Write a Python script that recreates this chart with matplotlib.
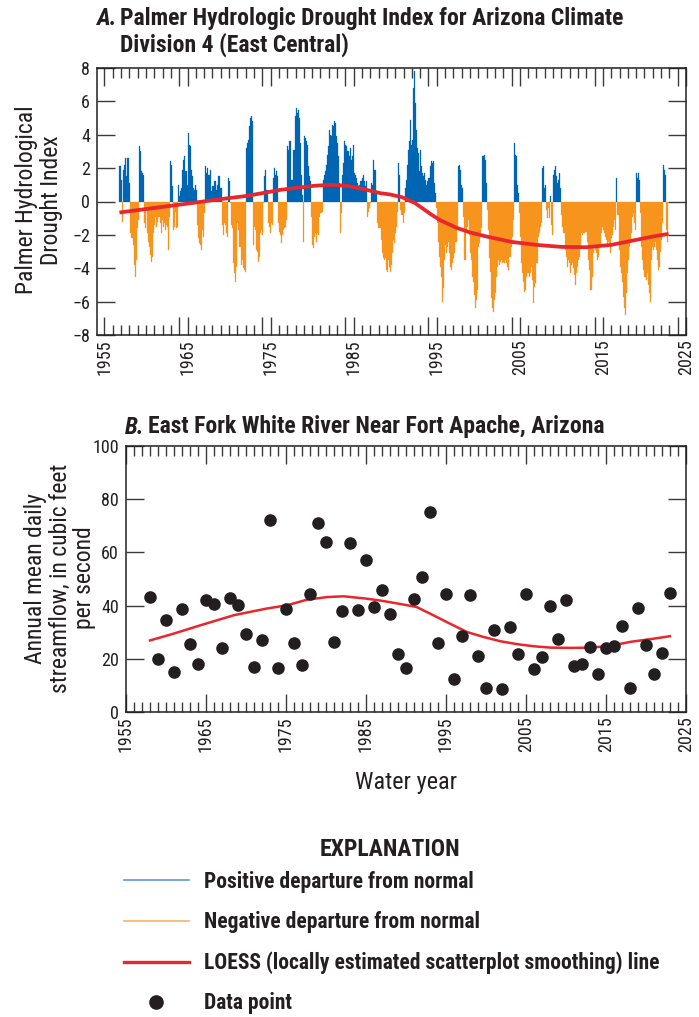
import numpy as np
import matplotlib
matplotlib.use("Agg")
import matplotlib.pyplot as plt
import matplotlib.font_manager as fm
from matplotlib.lines import Line2D
from matplotlib.ticker import FixedLocator, MultipleLocator, FuncFormatter

# condensed sans, as in the USGS figure
_names = {f.name for f in fm.fontManager.ttflist}
FONT = "Roboto Condensed" if "Roboto Condensed" in _names else "DejaVu Sans"
plt.rcParams["font.family"] = [FONT, "DejaVu Sans"]

# ---- panel A: Palmer Hydrological Drought Index, 8 readings per year ----
PHDI_START = 1956.75
PHDI_STEP = 0.125

phdi_1950s = [
    2.1, 2.1,
    1.3, -1.2, 1.9, 2.2, 2.6, 1.5, 2.6, 2.6,
    1.1, -1.9, -2.2, -2.6, -3.8, -4.5, -3.5, -1.6,
    -1.1, 3.3, 3.0, 1.8, 1.7, 1.6, -1.3, -1.6,
]
phdi_1960s = [
    -0.5, -1.9, -2.4, -2.7, -3.2, -3.6, -3.3, -1.9,
    -1.4, -0.9, -1.5, -1.2, -0.9, -1.3, -1.9, -1.1,
    -1.5, -1.3, -1.7, -1.4, -1.5, -2.9, -0.9, 2.4,
    2.2, 0.9, -1.7, -1.5, -0.6, -1.6, -1.5, 1.0,
    0.3, 0.6, 0.8, 1.9, 2.5, 2.7, 1.8, 1.0,
    4.1, 3.4, 3.3, 1.9, 1.5, 0.8, 0.7, 1.0,
    0.7, -1.4, -2.2, -2.5, -2.6, -2.9, -1.7, -2.1,
    -0.7, 2.1, 1.7, 2.0, 1.6, 1.6, 1.9, 0.6,
    0.9, 1.2, 1.2, 0.7, 1.0, 1.5, 1.5, 0.8,
    0.8, -1.4, -2.0, -1.3, -1.4, -1.9, -2.1, 1.4,
]
phdi_1970s = [
    1.2, -0.1, -1.4, -1.6, -3.7, -4.3, -4.8, -3.9,
    -1.3, -1.7, -2.7, -3.8, -3.5, -4.0, -4.1, -4.2,
    3.2, 3.5, 3.7, 4.5, 5.0, 5.1, 4.8, -2.6,
    -1.5, -1.7, -2.9, -3.0, -3.6, -3.3, -1.9, -1.7,
    -2.0, -0.1, 1.5, 1.9, 0.7, -1.3, -1.5, -1.9,
    -1.3, -1.4, 1.4, 2.0, 1.6, 1.8, 1.5, -1.3,
    -1.8, -2.0, -2.5, -2.0, -1.7, -1.6, -1.5, -1.1,
    3.3, 3.1, 3.6, 3.6, 1.3, 1.3, 3.1, 5.1,
    5.6, 5.3, 5.5, 5.0, 3.5, 1.6, 0.4, -2.4,
    3.9, 3.8, 3.6, 3.4, 2.1, 1.5, 1.2, -0.9,
]
phdi_1980s = [
    -2.6, -2.8, -2.1, -1.9, -2.4, -1.9, -2.0, -0.9,
    -0.7, -0.6, 1.3, 1.6, 1.8, 2.2, 2.8, 3.3,
    4.3, 4.0, 3.9, 4.6, 4.5, 4.8, 4.7, 3.9,
    3.5, 2.7, 1.1, -1.9, -0.7, 1.6, 2.3, 3.6,
    3.4, 3.3, 3.0, 2.7, 3.2, 2.5, 2.7, 3.4,
    1.7, 1.6, 1.4, 1.1, 0.9, 1.0, 1.2, 1.2,
    1.4, 1.6, 1.2, 0.9, 1.2, -0.9, -0.6, -0.4,
    -0.1, 1.1, 1.0, 2.5, 1.9, 0.6, -1.3, -1.6,
    -1.6, -1.6, -2.3, -3.1, -3.4, -3.5, -3.4, -4.1,
    -4.2, -3.5, -3.9, -4.2, -3.8, -3.1, -2.3, -2.5,
]
phdi_1990s = [
    -1.9, -1.5, -0.6, 2.3, 1.6, -0.5, -0.8, -1.3,
    -0.7, 0.8, 1.3, 2.2, 3.1, 3.6, 4.9, 3.4,
    3.7, 6.8, 7.8, 5.9, 4.3, 3.2, 2.9, 1.8,
    3.1, 2.1, 1.7, 1.5, 1.7, 1.3, 1.0, 1.2,
    1.4, 2.1, 2.4, 2.3, 2.4, 1.1, 0.5, -0.4,
    -1.3, -2.4, -3.3, -3.9, -4.5, -6.0, -5.2, -3.5,
    -2.6, -3.1, -2.7, -2.4, -3.1, -3.9, -4.1, -3.7,
    -3.4, -3.1, -2.4, -1.6, 2.1, 2.2, 1.9, 1.0,
    0.8, -0.9, -3.5, -3.5, -1.9, -1.5, -1.1, -2.0,
    -3.1, -3.5, -4.5, -4.8, -5.6, -6.4, -5.9, -5.3,
]
phdi_2000s = [
    -2.7, -2.5, -1.9, -1.6, 2.7, 2.8, 2.5, 1.1,
    -0.5, -1.7, -3.4, -4.2, -5.8, -6.4, -6.6, -5.9,
    -5.5, -4.5, -3.9, -3.5, -3.8, -3.6, -3.5, -3.7,
    -3.6, -3.7, -3.5, -3.7, -3.9, -4.1, -3.3, -2.7,
    -2.1, -1.1, 3.5, 2.8, 2.7, 1.0, 0.5, -0.7,
    -2.1, -3.7, -4.3, -4.8, -5.4, -5.3, -4.5, -4.3,
    -4.3, -4.5, -4.3, -3.9, -4.7, -6.1, -5.1, -4.9,
    -3.7, -2.1, -1.9, -1.5, -1.3, 2.0, 2.1, 0.8,
    1.0, -0.5, -1.0, -0.4, -1.0, 0.3, -1.4, -2.0,
    1.6, 1.9, 2.1, 1.5, 1.1, 1.3, 1.7, 0.8,
]
phdi_2010s = [
    -0.8, -1.5, -1.9, -2.9, -3.3, -3.9, -3.5, -3.7,
    -4.3, -3.8, -3.7, -4.0, -4.4, -5.0, -4.3, -3.9,
    -3.5, -3.3, -2.7, -1.9, -2.0, -1.9, -1.9, -1.8,
    -1.8, -2.4, -3.5, -4.1, -5.3, -4.5, -3.1, -2.7,
    -2.9, -3.1, -3.5, -3.3, -2.7, -2.6, -1.9, -1.5,
    -1.7, -1.9, -2.1, -2.3, -2.7, -2.4, -2.5, -3.1,
    -2.2, -2.0, -1.5, -1.1, -1.7, 1.4, -0.8, -2.9,
    -3.9, -4.3, -4.8, -5.7, -6.4, -6.8, -5.5, -4.3,
    -3.5, -2.7, -2.3, -1.9, -0.9, -0.7, -1.3, -1.7,
    1.7, 1.4, 1.7, 1.3, -0.7, -2.7, -3.5, -4.1,
]
phdi_2020s = [
    -4.5, -4.7, -4.3, -5.0, -5.5, -6.0, -3.5, -2.7,
    -2.9, -2.7, -2.4, -2.9, -3.5, -4.1, -3.9, -3.0,
    -2.3, -1.3, 2.2, 1.9, 1.6, -1.7, -2.4,
]

loess_a_year = [1956.8, 1960.8, 1964.8, 1968.8, 1972.2, 1976.2, 1980.2, 1982.2, 1984.2,
                1986.2, 1988.2, 1989.4, 1990.8, 1992.4, 1993.4, 1994.4, 1995.4, 1996.4,
                1997.4, 1999, 2001, 2004, 2007, 2010, 2013, 2016, 2019, 2021, 2022.9]
loess_a_value = [-0.66, -0.4, -0.14, 0.13, 0.34, 0.7, 0.94, 1.0, 0.94,
                 0.74, 0.5, 0.42, 0.26, -0.1, -0.45, -0.8, -1.12, -1.35,
                 -1.58, -1.85, -2.1, -2.42, -2.6, -2.72, -2.74, -2.6, -2.3, -2.1, -1.94]

# ---- panel B: annual mean daily streamflow ----
flow_years = np.arange(1958, 2024)
flow_cfs = [43.2, 20.1, 34.5, 14.9, 38.6, 25.5, 18.2, 42.0, 40.5, 23.9,
            42.9, 40.4, 29.2, 16.8, 27.2, 72.0, 16.5, 38.6, 26.0, 17.6,
            44.5, 71.0, 63.9, 26.4, 37.9, 63.5, 38.5, 57.2, 39.5, 45.8,
            36.8, 21.7, 16.6, 42.6, 50.8, 75.1, 26.1, 44.5, 12.5, 28.6,
            43.8, 21.0, 9.2, 31.0, 8.8, 32.0, 21.9, 44.5, 16.1, 20.8,
            39.8, 27.6, 42.0, 17.2, 18.2, 24.5, 14.1, 23.9, 25.0, 32.4,
            8.9, 39.2, 25.1, 14.1, 22.0, 44.8]

loess_b_year = [1958, 1961, 1964.3, 1968.5, 1972.6, 1975.1, 1977.6, 1980.1, 1982.2,
                1985.1, 1987, 1989.3, 1991.3, 1993.4, 1995.5, 1997.6, 1999.7, 2001.8,
                2003.9, 2006, 2008.1, 2010.6, 2013.1, 2015.6, 2018.1, 2020.6, 2023]
loess_b_value = [26.9, 29.5, 32.6, 36.4, 38.9, 40.1, 42.2, 43.2, 43.5,
                 42.6, 41.8, 40.6, 39.5, 36.4, 33.2, 30.1, 28.2, 26.6,
                 25.5, 24.7, 24.2, 24.1, 24.2, 24.9, 26.4, 27.4, 28.5]

BLUE = "#0066b3"
ORANGE = "#f7941d"
RED = "#e8262b"
INK = "#231f20"

W, H = 699, 1017
fig = plt.figure(figsize=(W / 100, H / 100), dpi=100)
ax1 = fig.add_axes([97 / W, 1 - 335 / H, 589 / W, 267 / H])
ax2 = fig.add_axes([126 / W, 1 - 712 / H, 560 / W, 266 / H])

# panel A bars
phdi = np.array(phdi_1950s + phdi_1960s + phdi_1970s + phdi_1980s
                + phdi_1990s + phdi_2000s + phdi_2010s + phdi_2020s)
t = PHDI_START + np.arange(len(phdi)) * PHDI_STEP
cols = np.where(phdi >= 0, BLUE, ORANGE)
ax1.bar(t, phdi, width=PHDI_STEP, align="edge", color=cols, edgecolor=cols, linewidth=0.2)
ax1.plot(loess_a_year, loess_a_value, color=RED, lw=2.7, solid_capstyle="butt",
         solid_joinstyle="round", zorder=3)

# panel B
ax2.scatter(flow_years, flow_cfs, s=82, color=INK, linewidths=0, zorder=3)
ax2.plot(loess_b_year, loess_b_value, color=RED, lw=1.8, zorder=2)


def style(ax):
    for s in ax.spines.values():
        s.set_linewidth(1.1)
        s.set_color(INK)
    ax.tick_params(which="both", direction="in", top=True, right=True,
                   color="#3a3a3a", width=1.0, labelsize=13, labelcolor=INK)
    ax.tick_params(which="major", length=13)
    ax.tick_params(which="minor", length=7)
    ax.tick_params(axis="x", which="major", labelrotation=90, pad=3)
    ax.tick_params(axis="y", which="major", pad=5)
    ax.xaxis.set_minor_locator(MultipleLocator(1))


decades = list(range(1955, 2026, 10))

ax1.set_xlim(1954.1, 2025)
ax1.set_ylim(-8, 8)
major_a = sorted([y for d in decades for y in (d - 1, d) if y >= 1955])
ax1.xaxis.set_major_locator(FixedLocator(major_a))
ax1.xaxis.set_major_formatter(FuncFormatter(lambda v, p: f"{int(round(v))}" if int(round(v)) in decades else ""))
ax1.yaxis.set_major_locator(MultipleLocator(2))
ax1.yaxis.set_major_formatter(FuncFormatter(lambda v, p: f"{int(v)}".replace("-", "\u2212")))
style(ax1)

ax2.set_xlim(1955, 2025)
ax2.set_ylim(0, 100)
ax2.xaxis.set_major_locator(FixedLocator(decades))
ax2.yaxis.set_major_locator(MultipleLocator(20))
style(ax2)

# titles
fig.text(96 / W, 1 - 7 / H, "A.", fontsize=17, fontweight="bold", fontstyle="italic",
         va="top", ha="left", color=INK)
fig.text(120 / W, 1 - 7 / H, "Palmer Hydrologic Drought Index for Arizona Climate\nDivision 4 (East Central)",
         fontsize=17, fontweight="bold", va="top", ha="left", linespacing=1.15, color=INK)
fig.text(125 / W, 1 - 427 / H, "B.", fontsize=17, fontweight="bold", fontstyle="italic",
         va="center", ha="left", color=INK)
fig.text(148 / W, 1 - 427 / H, "East Fork White River Near Fort Apache, Arizona",
         fontsize=17, fontweight="bold", va="center", ha="left", color=INK)

# axis labels
fig.text(39 / W, 1 - 200 / H, "Palmer Hydrological\nDrought Index", rotation=90,
         ha="center", va="center", fontsize=17, linespacing=1.1, color=INK)
fig.text(60 / W, 1 - 578 / H, "Annual mean daily\nstreamflow, in cubic feet\nper second", rotation=90,
         ha="center", va="center", fontsize=17, linespacing=1.1, color=INK)
fig.text(406 / W, 1 - 782 / H, "Water year", ha="center", va="center", fontsize=17.5, color=INK)

# explanation
fig.text(390 / W, 1 - 849 / H, "EXPLANATION", ha="center", va="center",
         fontsize=17, fontweight="bold", color=INK)
handles = [Line2D([], [], color="#5b9bd5", lw=1.2),
           Line2D([], [], color="#fbb26a", lw=1.2),
           Line2D([], [], color=RED, lw=2.4),
           Line2D([], [], marker="o", ls="none", color=INK, markersize=9.5)]
labels = ["Positive departure from normal", "Negative departure from normal",
          "LOESS (locally estimated scatterplot smoothing) line", "Data point"]
leg = fig.legend(handles, labels, loc="upper left", bbox_to_anchor=(124 / W, 1 - 871 / H),
                 frameon=False, prop={"weight": "bold", "size": 15.5},
                 handlelength=3.0, handletextpad=0.7, labelspacing=0.85,
                 borderpad=0, borderaxespad=0)
for txt in leg.get_texts():
    txt.set_color(INK)

fig.savefig("out.png", dpi=100)
